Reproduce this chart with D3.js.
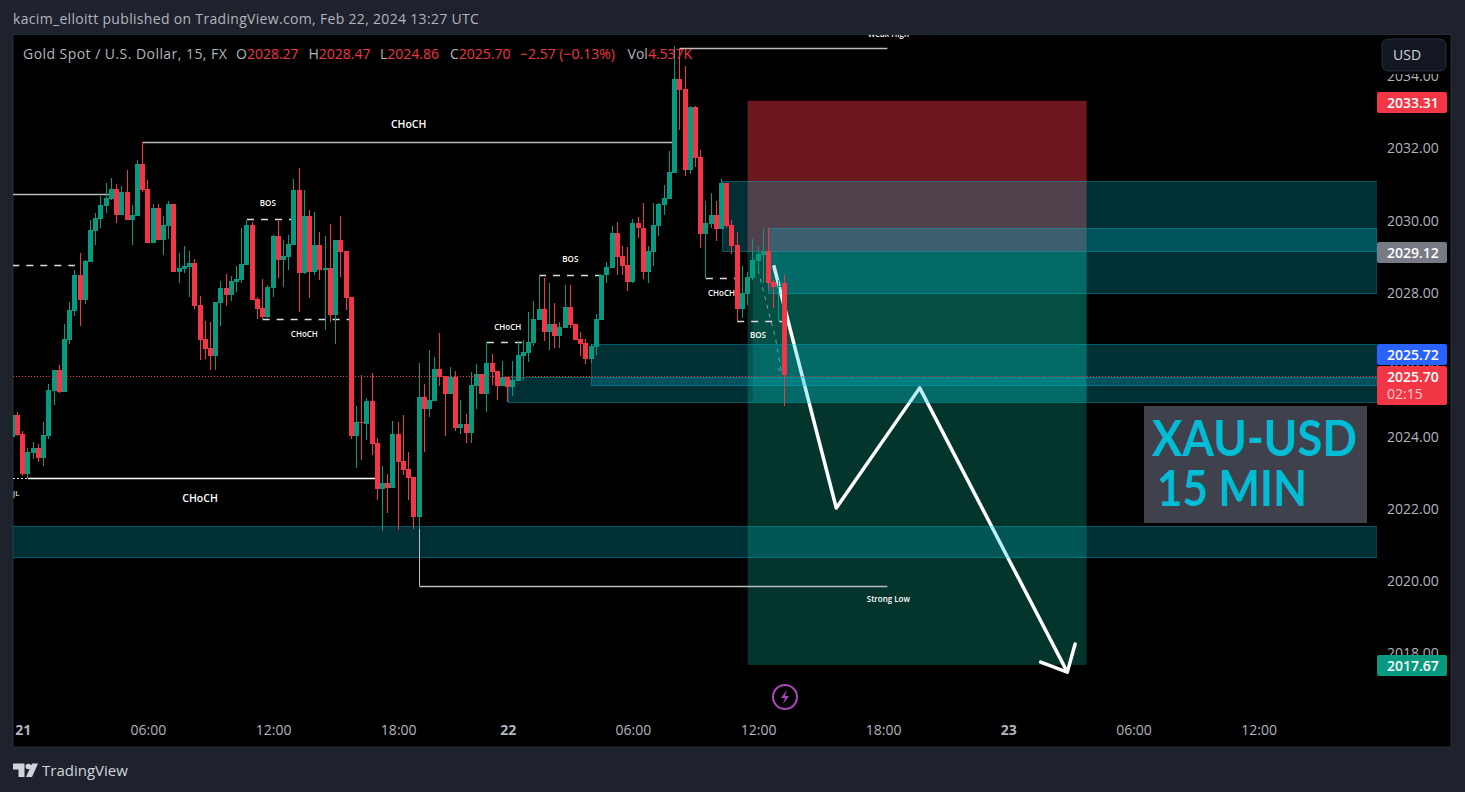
<!DOCTYPE html>
<html lang="en">
<head>
<meta charset="UTF-8">
<title>XAU-USD 15 MIN</title>
<script src="https://cdnjs.cloudflare.com/ajax/libs/d3/7.8.5/d3.min.js"></script>
<style>
    html, body { margin: 0; padding: 0; background: #1e222d; overflow: hidden; }
    svg { display: block; }
    text { font-family: "Open Sans", "Liberation Sans", sans-serif; }
    .axis path, .axis line { display: none; }
    .axis text { fill: #b2b5be; font-size: 14px; font-family: "Open Sans", sans-serif; }
</style>
</head>
<body>
<svg id="chart" width="1465" height="792"></svg>
<script>
// candles, one entry per 15 min bar
const opens = [2023.99,2024.60,2024.07,2022.96,2023.54,2023.68,2023.40,2024.02,2025.26,2025.85,2025.23,2026.67,2027.48,2028.48,2027.79,2028.84,2029.70,2030.03,2030.39,2030.59,2030.86,2030.14,2030.78,2030.00,2030.11,2031.56,2030.86,2029.37,2030.34,2029.45,2029.84,2030.45,2028.56,2028.64,2028.70,2028.81,2027.65,2026.70,2026.45,2026.23,2027.70,2028.12,2027.92,2028.28,2028.34,2028.75,2029.86,2027.81,2027.56,2027.31,2028.12,2029.56,2028.89,2028.98,2029.31,2030.84,2028.53,2030.11,2028.56,2029.31,2028.62,2028.67,2027.37,2029.45,2029.14,2027.87,2024.02,2024.40,2024.35,2024.98,2023.82,2022.54,2022.71,2022.57,2024.07,2023.32,2023.10,2022.88,2021.77,2025.10,2024.76,2024.98,2025.87,2025.68,2025.18,2025.65,2024.24,2024.35,2024.10,2025.40,2025.73,2025.18,2026.04,2025.82,2025.40,2025.65,2025.37,2025.54,2026.23,2026.31,2026.59,2027.23,2027.53,2026.90,2027.12,2026.79,2027.01,2027.59,2027.12,2026.70,2026.59,2026.15,2026.48,2027.23,2028.48,2028.67,2029.64,2029.00,2028.75,2028.28,2029.92,2029.78,2028.56,2029.12,2029.84,2030.42,2030.59,2031.31,2033.91,2033.63,2031.39,2033.14,2031.75,2029.62,2029.89,2030.14,2029.75,2031.03,2029.86,2029.31,2027.53,2027.95,2028.39,2028.87,2029.03,2029.14,2028.28,2028.14,2028.27];
const highs = [2024.66,2024.68,2024.15,2023.68,2023.85,2023.79,2024.40,2025.45,2025.85,2025.98,2027.12,2027.73,2028.62,2029.09,2028.89,2030.00,2030.20,2030.67,2031.03,2031.17,2031.00,2030.95,2031.39,2030.42,2031.67,2032.17,2031.11,2030.45,2030.45,2030.11,2030.53,2030.45,2029.09,2029.28,2029.14,2028.92,2027.90,2027.20,2027.17,2027.73,2028.31,2028.50,2028.45,2028.73,2029.78,2030.00,2029.95,2027.87,2028.37,2028.20,2029.59,2029.97,2029.45,2029.59,2031.14,2031.45,2030.84,2030.28,2030.23,2029.67,2029.56,2029.89,2029.45,2030.11,2029.14,2027.87,2024.85,2025.71,2025.07,2025.76,2023.96,2023.18,2022.96,2024.43,2024.40,2024.60,2023.57,2022.88,2026.04,2025.45,2026.40,2026.20,2026.87,2025.68,2025.93,2025.82,2025.01,2024.62,2025.79,2026.01,2025.73,2026.62,2026.29,2025.82,2026.09,2025.65,2026.09,2026.65,2026.67,2027.45,2027.76,2028.48,2028.39,2028.25,2027.70,2027.17,2028.20,2028.20,2027.12,2026.90,2026.70,2026.56,2027.40,2028.48,2028.84,2029.84,2029.95,2029.28,2029.25,2030.03,2030.09,2030.47,2029.28,2030.47,2030.47,2030.97,2031.92,2034.83,2034.77,2034.27,2033.16,2033.16,2031.94,2030.53,2030.75,2030.53,2031.14,2031.03,2030.00,2029.67,2028.73,2028.56,2029.48,2029.28,2029.75,2029.78,2028.34,2028.34,2028.47];
const lows = [2023.96,2024.02,2022.90,2022.85,2023.38,2023.29,2023.18,2023.93,2024.87,2025.20,2025.23,2026.56,2027.34,2027.06,2027.67,2028.84,2029.31,2029.78,2030.20,2030.56,2029.92,2030.14,2030.00,2029.31,2030.11,2030.78,2029.37,2029.37,2029.45,2029.03,2029.48,2028.56,2028.25,2028.53,2027.87,2027.53,2026.12,2026.15,2025.85,2025.85,2027.06,2027.62,2027.76,2028.00,2028.25,2028.75,2027.79,2027.26,2027.26,2027.29,2027.87,2028.39,2028.14,2028.62,2029.31,2027.45,2028.50,2027.84,2028.48,2028.34,2026.95,2027.17,2026.56,2028.42,2027.51,2023.93,2023.13,2023.35,2023.90,2023.49,2022.24,2021.38,2021.88,2022.57,2021.41,2022.93,2022.24,2021.44,2021.44,2023.57,2024.54,2024.98,2025.40,2024.02,2025.18,2024.15,2024.07,2023.82,2023.82,2024.76,2025.18,2024.68,2025.43,2025.01,2025.40,2024.96,2025.12,2025.54,2025.57,2026.07,2026.51,2027.23,2026.65,2026.40,2026.45,2026.45,2027.01,2027.01,2026.67,2026.23,2026.01,2026.04,2026.26,2027.23,2028.25,2028.67,2028.48,2028.48,2028.03,2028.25,2029.50,2028.37,2028.25,2028.73,2029.56,2030.14,2030.59,2031.31,2032.50,2031.22,2031.28,2031.47,2029.23,2028.39,2029.78,2029.42,2029.75,2029.78,2029.06,2027.20,2027.29,2027.65,2028.34,2028.56,2028.25,2028.05,2027.56,2027.20,2024.86];
const closes = [2024.60,2024.04,2022.96,2023.57,2023.68,2023.40,2024.04,2025.29,2025.85,2025.23,2026.70,2027.51,2028.48,2027.79,2028.87,2029.73,2030.06,2030.42,2030.61,2030.86,2030.14,2030.78,2030.00,2030.14,2031.56,2030.84,2029.37,2030.34,2029.45,2029.86,2030.45,2028.56,2028.67,2028.73,2028.81,2027.62,2026.67,2026.43,2026.23,2027.73,2028.12,2027.92,2028.31,2028.37,2028.78,2029.86,2027.79,2027.53,2027.31,2028.14,2029.56,2028.89,2029.00,2029.34,2030.84,2028.53,2030.11,2028.56,2029.31,2028.62,2028.67,2027.37,2029.45,2029.12,2027.84,2024.02,2024.40,2024.37,2024.98,2023.79,2022.54,2022.71,2022.57,2024.07,2023.29,2023.07,2022.85,2021.77,2025.10,2024.76,2025.01,2025.87,2025.65,2025.18,2025.65,2024.24,2024.35,2024.10,2025.43,2025.73,2025.18,2026.04,2025.79,2025.40,2025.65,2025.37,2025.57,2026.26,2026.34,2026.62,2027.26,2027.53,2026.90,2027.12,2026.79,2027.03,2027.59,2027.09,2026.67,2026.56,2026.15,2026.51,2027.26,2028.48,2028.70,2029.64,2028.98,2028.73,2028.28,2029.92,2029.78,2028.56,2029.14,2029.86,2030.45,2030.61,2031.33,2033.91,2033.61,2031.39,2033.14,2031.72,2029.62,2029.92,2030.14,2029.75,2031.03,2029.84,2029.28,2027.53,2027.98,2028.42,2028.89,2029.06,2029.14,2028.25,2028.14,2028.17,2025.70];

const priceTicks = [2034, 2032, 2030, 2028, 2026, 2024, 2022, 2020, 2018];
const timeBars = [2, 26, 50, 74, 95, 119, 143, 167, 191, 215, 239];
const timeLabels = ["21", "06:00", "12:00", "18:00", "22", "06:00", "12:00", "18:00", "23", "06:00", "12:00"];
const dayLabels = ["21", "22", "23"];

// supply / demand boxes: left bar, top price, bottom price
const zoneStart = [136, 145, 111, 95, 0];
const zoneTop = [2031.08, 2029.78, 2026.56, 2025.65, 2021.52];
const zoneBottom = [2029.14, 2027.98, 2025.42, 2024.96, 2020.66];

// structure lines
const solidLineFrom = [25, 128, 0, 3];
const solidLineTo = [127, 167.8, 19, 70];
const solidLinePrice = [2032.17, 2034.77, 2030.72, 2022.84];
const solidLineColor = ["#bdbdbd", "#bdbdbd", "#bdbdbd", "#ffffff"];
const dashLineFrom = [0, 45, 48, 91, 101, 133, 139];
const dashLineTo = [12, 54, 65, 99, 113, 139, 148];
const dashLinePrice = [2028.76, 2030.04, 2027.26, 2026.63, 2028.49, 2028.40, 2027.21];
const labelText = ["CHoCH", "CHoCH", "BOS", "CHoCH", "CHoCH", "BOS", "CHoCH", "BOS", "Strong Low", "Weak High"];
const labelBar = [76, 36, 49, 56, 95, 107, 136, 143, 168, 168];
const labelPrice = [2032.55, 2022.19, 2030.39, 2026.76, 2026.95, 2028.84, 2027.90, 2026.73, 2019.41, 2035.08];
const labelSize = [10.5, 10.5, 8, 8, 8, 8, 8, 8, 8, 8];

// position tool and drawn arrow
const stopPrice = 2033.31;
const entryPrice = 2029.12;
const targetPrice = 2017.67;
const toolFrom = 141;
const toolTo = 206;
const openedFrom = 142;
const openedLow = 2024.96;
const arrowBars = [146, 158, 174, 202.3];
const arrowPrices = [2028.75, 2022.02, 2025.35, 2017.47];
const headBars = [197.2, 202.3, 203.8];
const headPrices = [2017.75, 2017.47, 2018.25];
const forecastBars = [143, 146.4, 147.5, 146.5];
const forecastPrices = [2028.62, 2026.68, 2025.76, 2025.95];

const tagPrices = ["2033.31", "2029.12", "2025.72", "2025.70", "2017.67"];
const legendName = "Gold Spot / U.S. Dollar, 15, FX";
const legendKeys = ["O", "H", "L", "C", "", "Vol"];
const legendVals = ["2028.27", "2028.47", "2024.86", "2025.70", "\u22122.57 (\u22120.13%)", "4.537K"];

const red = "#f23645", green = "#089981", teal = "#00bcd4";
const svg = d3.select("#chart");

const x = d3.scaleLinear().domain([0, 265]).range([12.3, 12.3 + 265 * 5.215]);
const y = d3.scaleLinear().domain([2032, 2018]).range([148, 653]);
const crisp = v => Math.round(v) + 0.5;

svg.append("text").attr("x", 13).attr("y", 24).attr("fill", "#b2b5be").attr("font-size", 14)
    .attr("letter-spacing", 0.32)
    .text("kacim_elloitt published on TradingView.com, Feb 22, 2024 13:27 UTC");

// panel
svg.append("rect").attr("x", 13).attr("y", 34.5).attr("width", 1438).attr("height", 712.5)
    .attr("fill", "#000").attr("stroke", "#2a2e39");

svg.append("defs").append("clipPath").attr("id", "plot").append("rect")
    .attr("x", 13).attr("y", 35).attr("width", 1364).attr("height", 712);

const plot = svg.append("g").attr("clip-path", "url(#plot)");

// position tool
plot.append("rect").attr("x", x(toolFrom)).attr("width", x(toolTo) - x(toolFrom))
    .attr("y", y(stopPrice)).attr("height", y(entryPrice) - y(stopPrice))
    .attr("fill", red).attr("opacity", 0.45);
plot.append("rect").attr("x", x(toolFrom)).attr("width", x(toolTo) - x(toolFrom))
    .attr("y", y(entryPrice)).attr("height", y(targetPrice) - y(entryPrice))
    .attr("fill", green).attr("opacity", 0.35);
plot.append("rect").attr("x", x(openedFrom)).attr("width", x(toolTo) - x(openedFrom))
    .attr("y", y(entryPrice)).attr("height", y(openedLow) - y(entryPrice))
    .attr("fill", green).attr("opacity", 0.27);

// arrow sits under the zones, that is what tints it
const line = d3.line();
plot.append("path")
    .attr("d", line(forecastBars.map((b, i) => [x(b), y(forecastPrices[i])])))
    .attr("fill", "none").attr("stroke", "#7f9c9c").attr("stroke-dasharray", "4 5");
plot.append("path")
    .attr("d", line(arrowBars.map((b, i) => [x(b), y(arrowPrices[i])])))
    .attr("fill", "none").attr("stroke", "#fff").attr("stroke-width", 3.5).attr("stroke-linejoin", "round");
plot.append("path")
    .attr("d", line(headBars.map((b, i) => [x(b), y(headPrices[i])])))
    .attr("fill", "none").attr("stroke", "#fff").attr("stroke-width", 3.5)
    .attr("stroke-linecap", "round").attr("stroke-linejoin", "round");

// zones
plot.selectAll(".zone").data(zoneStart).join("rect")
    .attr("class", "zone")
    .attr("x", d => crisp(x(d)))
    .attr("width", d => 1377 - x(d))
    .attr("y", (d, i) => crisp(y(zoneTop[i])))
    .attr("height", (d, i) => Math.round(y(zoneBottom[i]) - y(zoneTop[i])))
    .attr("fill", teal).attr("fill-opacity", 0.25)
    .attr("stroke", teal).attr("stroke-opacity", 0.4);

// structure
plot.selectAll(".solid").data(solidLineFrom).join("line")
    .attr("class", "solid")
    .attr("x1", d => x(d)).attr("x2", (d, i) => x(solidLineTo[i]))
    .attr("y1", (d, i) => crisp(y(solidLinePrice[i]))).attr("y2", (d, i) => crisp(y(solidLinePrice[i])))
    .attr("stroke", (d, i) => solidLineColor[i]).attr("stroke-width", 1.6);
plot.selectAll(".dash").data(dashLineFrom).join("line")
    .attr("class", "dash")
    .attr("x1", d => x(d)).attr("x2", (d, i) => x(dashLineTo[i]))
    .attr("y1", (d, i) => crisp(y(dashLinePrice[i]))).attr("y2", (d, i) => crisp(y(dashLinePrice[i])))
    .attr("stroke", "#dcdcdc").attr("stroke-width", 1.5).attr("stroke-dasharray", "7 7");
plot.append("line").attr("x1", 13).attr("x2", x(3))
    .attr("y1", crisp(y(2022.84))).attr("y2", crisp(y(2022.84)))
    .attr("stroke", "#dcdcdc").attr("stroke-dasharray", "2 2");
plot.append("line").attr("x1", crisp(x(78))).attr("x2", crisp(x(78))).attr("y1", y(2021.44)).attr("y2", y(2019.86))
    .attr("stroke", "#bdbdbd");
plot.append("line").attr("x1", crisp(x(78))).attr("x2", x(167.8))
    .attr("y1", crisp(y(2019.86))).attr("y2", crisp(y(2019.86)))
    .attr("stroke", "#bdbdbd").attr("stroke-width", 1.6);
plot.selectAll(".lbl").data(labelText).join("text")
    .attr("class", "lbl")
    .attr("x", (d, i) => x(labelBar[i]))
    .attr("y", (d, i) => y(labelPrice[i]))
    .attr("text-anchor", "middle")
    .attr("fill", "#fff")
    .attr("font-weight", 600)
    .attr("font-size", (d, i) => labelSize[i])
    .text(d => d);
plot.append("text").attr("x", 13).attr("y", 496).attr("fill", "#fff").attr("font-size", 8).text("JL");

// candles
const bars = d3.range(opens.length);
const candle = plot.append("g").selectAll("g").data(bars).join("g")
    .attr("fill", i => closes[i] >= opens[i] ? green : red);
candle.append("rect")
    .attr("x", i => Math.round(x(i) - 2.5) + 2)
    .attr("width", 1)
    .attr("y", i => Math.round(y(highs[i])))
    .attr("height", i => Math.round(y(lows[i])) - Math.round(y(highs[i])));
candle.append("rect")
    .attr("x", i => Math.round(x(i) - 2.5))
    .attr("width", 5)
    .attr("y", i => Math.round(y(Math.max(opens[i], closes[i]))))
    .attr("height", i => Math.max(1, Math.round(y(Math.min(opens[i], closes[i]))) - Math.round(y(Math.max(opens[i], closes[i])))));

// last price, dotted and over everything in the plot
plot.append("line").attr("x1", 13).attr("x2", 1377)
    .attr("y1", Math.round(y(2025.70)) + 1.5).attr("y2", Math.round(y(2025.70)) + 1.5)
    .attr("stroke", red).attr("stroke-dasharray", "1 2");

// note box
plot.append("rect").attr("x", 1144).attr("y", 406).attr("width", 223).attr("height", 117).attr("fill", "#3f414d");
plot.append("text").attr("x", 1152).attr("y", 456).attr("fill", teal).attr("font-size", 50)
    .attr("font-weight", 700).attr("textLength", 205).attr("lengthAdjust", "spacingAndGlyphs")
    .style("font-family", "Lato").text("XAU-USD");
plot.append("text").attr("x", 1157).attr("y", 506).attr("fill", teal).attr("font-size", 50)
    .attr("font-weight", 700).attr("textLength", 150).attr("lengthAdjust", "spacingAndGlyphs")
    .style("font-family", "Lato").text("15 MIN");

// axes
svg.append("g").attr("class", "axis").attr("transform", "translate(1380,0.5)")
    .call(d3.axisRight(y).tickValues(priceTicks).tickSize(0).tickPadding(7).tickFormat(d3.format(".2f")));
const timeAxis = svg.append("g").attr("class", "axis").attr("transform", "translate(0,722)")
    .call(d3.axisBottom(x).tickValues(timeBars).tickSize(0).tickPadding(3)
        .tickFormat((d, i) => timeLabels[i]));
timeAxis.selectAll("text").attr("font-weight", (d, i) => dayLabels.includes(timeLabels[i]) ? "bold" : "normal");

// price tags
const tagY = [92, 242, 344, 366, 655];
const tagH = [21, 21, 21, 39, 21];
const tagColor = [red, "#787b86", "#2962ff", red, green];
svg.selectAll(".tag").data(tagPrices).join("rect")
    .attr("class", "tag")
    .attr("x", 1377).attr("width", 70).attr("rx", 2)
    .attr("y", (d, i) => tagY[i]).attr("height", (d, i) => tagH[i])
    .attr("fill", (d, i) => tagColor[i]);
svg.selectAll(".tagText").data(tagPrices).join("text")
    .attr("class", "tagText")
    .attr("x", 1387).attr("y", (d, i) => tagY[i] + 15.5)
    .attr("fill", "#fff").attr("font-size", 14).attr("font-weight", 600)
    .text(d => d);
svg.append("text").attr("x", 1387).attr("y", 399).attr("fill", "#fff").attr("fill-opacity", 0.75)
    .attr("font-size", 14).text("02:15");

// USD button, its black padding cuts the top tick label
svg.append("rect").attr("x", 1378).attr("y", 36).attr("width", 72).attr("height", 38).attr("fill", "#000");
svg.append("rect").attr("x", 1382).attr("y", 39).attr("width", 64).attr("height", 32).attr("rx", 6)
    .attr("fill", "#131722").attr("stroke", "#2a2e39");
svg.append("text").attr("x", 1393).attr("y", 60).attr("fill", "#d1d4dc").attr("font-size", 14).text("USD");

// legend
svg.append("text").attr("x", 23).attr("y", 59).attr("fill", "#b2b5be").attr("font-size", 14)
    .attr("letter-spacing", 0.45).text(legendName);
const legendX = [236, 308.5, 380, 450, 520, 627.6];
legendKeys.forEach((k, i) => {
    const t = svg.append("text").attr("x", legendX[i]).attr("y", 59).attr("font-size", 14);
    t.append("tspan").attr("fill", "#b2b5be").text(k);
    t.append("tspan").attr("fill", red).text(legendVals[i]);
});

// bolt icon
const bolt = svg.append("g").attr("transform", "translate(785,697)");
bolt.append("circle").attr("r", 12).attr("fill", "none").attr("stroke", "#ab47bc").attr("stroke-width", 2);
bolt.append("path").attr("d", "M2,-7 L-4,1 L0,1 L-2,7 L4,-1 L0,-1 Z").attr("fill", "#ab47bc");

// footer
svg.append("path").attr("d", "M13,763.5 H24.5 V777 H18.5 V769.5 H13 Z M38,763.5 L32,777 H26 L32,763.5 Z")
    .attr("fill", "#d1d4dc");
svg.append("circle").attr("cx", 28.3).attr("cy", 766.5).attr("r", 2.8).attr("fill", "#d1d4dc");
svg.append("text").attr("x", 42).attr("y", 776).attr("fill", "#d1d4dc").attr("font-size", 15).text("TradingView");
</script>
</body>
</html>
